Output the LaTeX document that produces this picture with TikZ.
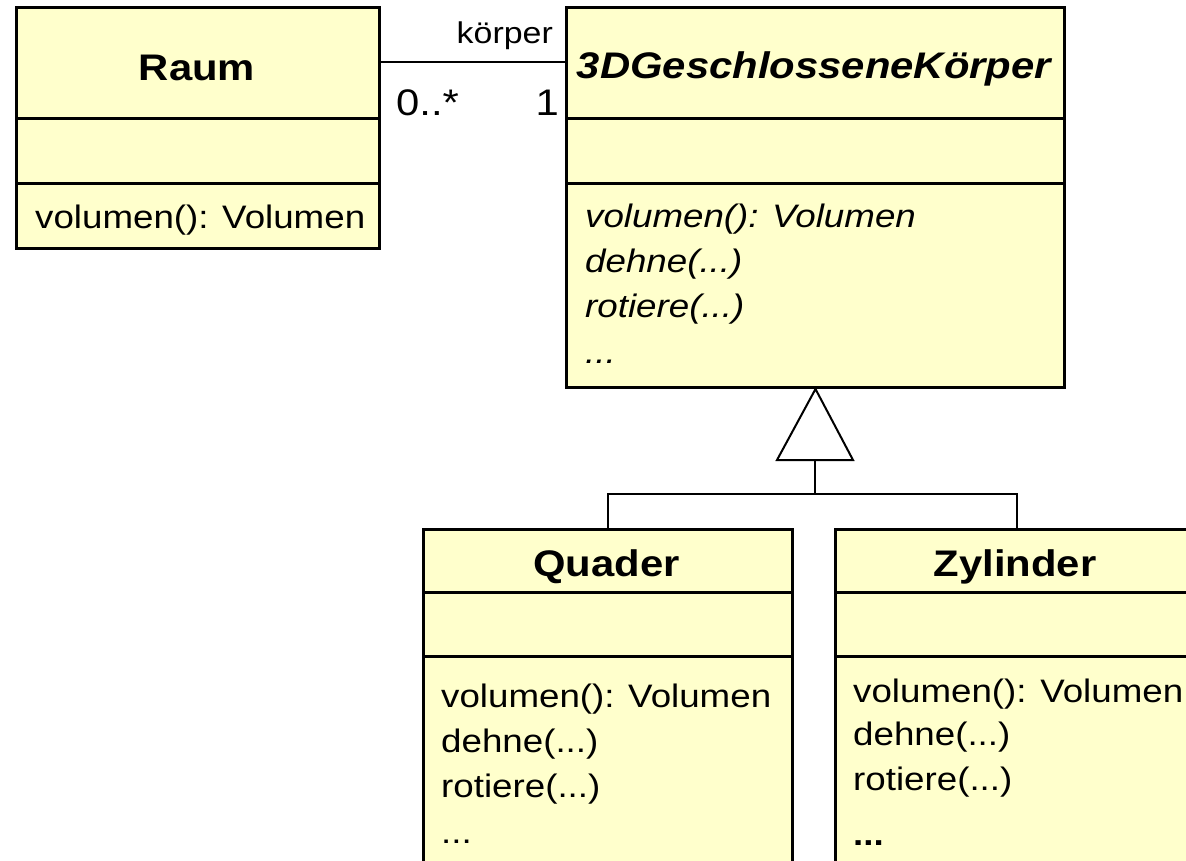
\documentclass[tikz,border=0pt]{standalone}
\usepackage{fontspec}
\setmainfont{Liberation Sans}[FakeStretch=1.13]
\definecolor{clsfill}{RGB}{255,255,204}
\tikzset{
  cls/.style={draw=black, fill=clsfill, line width=3pt, anchor=north west, inner sep=0pt},
  sep/.style={line width=3pt},
  conn/.style={line width=2pt, draw=black},
  title/.style={font=\fontsize{37}{44}\selectfont\bfseries, anchor=base, inner sep=0pt},
  atitle/.style={font=\fontsize{37}{44}\selectfont\bfseries\itshape, anchor=base, inner sep=0pt},
  meth/.style={font=\fontsize{32.5}{40}\selectfont, anchor=base west, inner sep=0pt},
  ameth/.style={font=\fontsize{32.5}{40}\selectfont\itshape, anchor=base west, inner sep=0pt},
  mult/.style={font=\fontsize{37}{44}\selectfont, inner sep=0pt},
  role/.style={font=\fontsize{30}{36}\selectfont, inner sep=0pt}
}
\begin{document}
\begin{tikzpicture}[x=1pt,y=-1pt]
\clip (0,0) rectangle (1186,860);
\fill[white] (0,0) rectangle (1186,860);
% Raum
\node[cls, minimum width=363pt, minimum height=241pt] (raum) at (15,6) {};
\draw[sep] (15,118) -- (378,118);
\draw[sep] (15,183) -- (378,183);
\node[title] (raumT) at (197,80) {Raum};
\node[meth] (raumM1) at (35,228) {volumen(): Volumen};
% 3DGeschlosseneKoerper
\node[cls, minimum width=498pt, minimum height=380pt] (geo) at (565,6) {};
\draw[sep] (565,118) -- (1063,118);
\draw[sep] (565,183) -- (1063,183);
\node[atitle] (geoT) at (814,78) {3DGeschlosseneKörper};
\node[ameth] (geoM1) at (585,227) {volumen(): Volumen};
\node[ameth] (geoM2) at (585,272) {dehne(...)};
\node[ameth] (geoM3) at (585,317) {rotiere(...)};
\node[ameth] (geoM4) at (585,363) {...};
% Quader
\node[cls, minimum width=369pt, minimum height=400pt] (quader) at (422,528) {};
\draw[sep] (422,592) -- (791,592);
\draw[sep] (422,656) -- (791,656);
\node[title] (quaderT) at (606.5,576) {Quader};
\node[meth] (quaderM1) at (441,707) {volumen(): Volumen};
\node[meth] (quaderM2) at (441,752) {dehne(...)};
\node[meth] (quaderM3) at (441,797) {rotiere(...)};
\node[meth] (quaderM4) at (441,843) {...};
% Zylinder
\node[cls, minimum width=362pt, minimum height=400pt] (zyl) at (834,528) {};
\draw[sep] (834,592) -- (1196,592);
\draw[sep] (834,656) -- (1196,656);
\node[title] (zylT) at (1015,576) {Zylinder};
\node[meth] (zylM1) at (853,702) {volumen(): Volumen};
\node[meth] (zylM2) at (853,745) {dehne(...)};
\node[meth] (zylM3) at (853,790) {rotiere(...)};
\node[meth] (zylM4) at (853,845) {\textbf{...}};
% association
\coordinate (a1) at (378,62);
\draw[conn] (a1) -- (geo.west |- a1);
\node[role, anchor=base east] (role) at (553,43) {körper};
\node[mult, anchor=base west] (m1) at (396,115) {0..*};
\node[mult, anchor=base east] (m2) at (559,115) {1};
% generalization
\coordinate (tb) at (815,460);
\coordinate (jn) at (815,494);
\draw[conn, fill=white, line join=miter] (geo.south) -- (777,460) -- (853,460) -- cycle;
\draw[conn] (tb) -- (jn);
\draw[conn] (quader.north) |- (jn) -| (zyl.north);
\end{tikzpicture}
\end{document}
